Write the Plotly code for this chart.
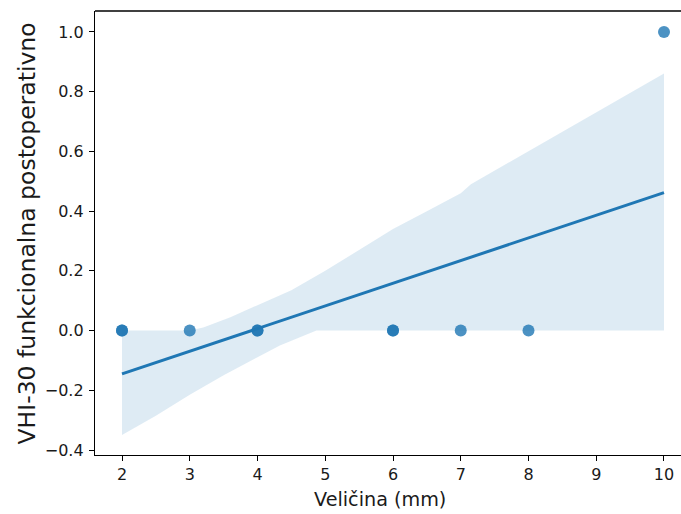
import plotly.graph_objects as go

# Data points (duplicates at 2, 4, 6)
size_mm = [2, 2, 3, 4, 4, 6, 6, 7, 8, 10]
vhi_post = [0, 0, 0, 0, 0, 0, 0, 0, 0, 1]

# Regression line
fit_x = [2, 10]
fit_y = [-0.145, 0.462]

# Confidence band edges
upper_x = [2, 2.5, 3.0, 3.2, 3.6, 4.0, 4.5, 5.0, 5.5, 6.0, 6.5, 7.0, 7.15, 8.0, 9.0, 10]
upper_y = [0.0, 0.0, 0.0, 0.01, 0.045, 0.085, 0.135, 0.2, 0.27, 0.34, 0.40, 0.46, 0.49, 0.60, 0.73, 0.861]
lower_x = [2, 2.5, 3.0, 3.5, 4.0, 4.33, 4.6, 4.87, 10]
lower_y = [-0.35, -0.285, -0.215, -0.15, -0.089, -0.05, -0.025, 0.0, 0.0]

x_ticks = [2, 3, 4, 5, 6, 7, 8, 9, 10]
y_ticks = [-0.4, -0.2, 0.0, 0.2, 0.4, 0.6, 0.8, 1.0]
y_tick_text = ["\u22120.4", "\u22120.2", "0.0", "0.2", "0.4", "0.6", "0.8", "1.0"]

x_title = "Veličina (mm)"
y_title = "VHI-30 funkcionalna postoperativno"

blue = "#1f77b4"
font = "DejaVu Sans"
text_color = "#1a1a1a"

fig = go.Figure()
fig.add_trace(go.Scatter(
    x=size_mm, y=vhi_post, mode="markers",
    marker=dict(color=blue, size=12, opacity=0.8, line=dict(width=0)),
    hoverinfo="skip", showlegend=False))
fig.add_trace(go.Scatter(
    x=upper_x + lower_x[::-1], y=upper_y + lower_y[::-1],
    mode="lines", fill="toself", fillcolor="rgba(31,119,180,0.15)",
    line=dict(width=0), hoverinfo="skip", showlegend=False))
fig.add_trace(go.Scatter(
    x=fit_x, y=fit_y, mode="lines",
    line=dict(color=blue, width=3), hoverinfo="skip", showlegend=False))

fig.update_layout(
    width=681, height=514,
    margin=dict(l=95, r=0, t=11, b=59, autoexpand=False),
    paper_bgcolor="white", plot_bgcolor="white",
    font=dict(family=font, color=text_color, size=16),
    xaxis=dict(range=[1.6015, 10.251], tickvals=x_ticks, automargin=False,
               showgrid=False, zeroline=False,
               showline=True, linecolor="black", linewidth=1.4, mirror=False,
               ticks="outside", ticklen=5, tickwidth=1.2, tickcolor="black",
               tickfont=dict(size=16, family=font, color=text_color)),
    yaxis=dict(range=[-0.4167, 1.0703], tickvals=y_ticks, ticktext=y_tick_text,
               automargin=False, ticklabelstandoff=2,
               showgrid=False, zeroline=False,
               showline=True, linecolor="black", linewidth=1.4, mirror=False,
               ticks="outside", ticklen=5, tickwidth=1.2, tickcolor="black",
               tickfont=dict(size=16, family=font, color=text_color)),
    shapes=[dict(type="line", xref="paper", yref="paper", x0=0, x1=1.01, y0=1, y1=1,
                 line=dict(color="black", width=1.4), layer="above")],
    annotations=[
        dict(text=x_title, xref="paper", yref="paper", x=0.4863, y=-0.0991,
             xanchor="center", yanchor="middle", showarrow=False,
             font=dict(size=19.2, family=font, color=text_color)),
        dict(text=y_title, xref="paper", yref="paper", x=-0.116, y=0.4989,
             xanchor="center", yanchor="middle", showarrow=False, textangle=-90,
             font=dict(size=23.5, family=font, color=text_color)),
    ],
)

fig.write_html(
    "out.html",
    config={"displayModeBar": False},
    post_script="document.body.style.margin='0';"
                "document.documentElement.style.overflow='hidden';",
)
